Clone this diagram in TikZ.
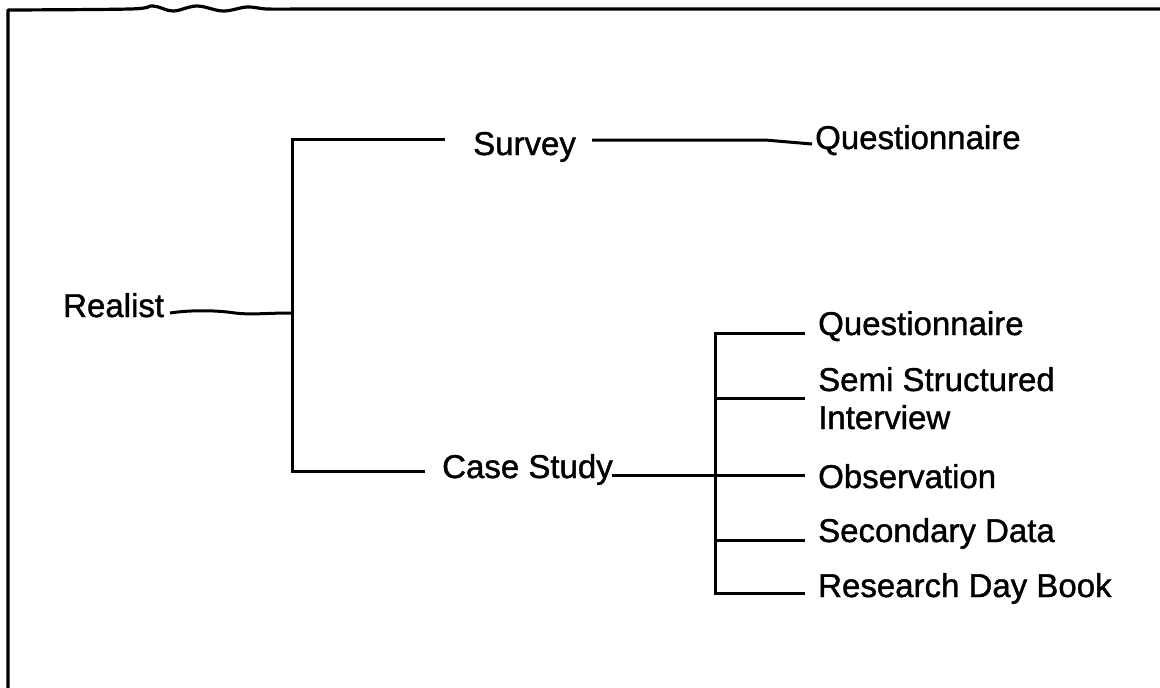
\documentclass[tikz,border=0pt]{standalone}
\usepackage{fontspec}
\setmainfont{Liberation Sans}[FakeBold=1.2]
\begin{document}
\begin{tikzpicture}[x=1pt,y=-1pt,
  lbl/.style={anchor=base west,inner sep=0pt,font=\fontsize{33}{38}\selectfont},
  link/.style={line width=3pt,line cap=butt},
  rim/.style={line width=3.2pt,line join=round}]
\useasboundingbox (0,0) rectangle (1160,688);

% page frame: left edge and a slightly wavy top edge
\draw[rim] (8,688) -- plot[smooth,tension=0.6] coordinates
  {(8,10) (130,9) (153,6) (173,11) (197,6) (223,11) (247,7) (267,9) (300,9)} -- (1160,9);

% labels
\node[lbl] (realist) at (63,317) {Realist};
\node[lbl] (survey) at (473,155) {Survey};
\node[lbl] (q1) at (815,149) {Questionnaire};
\node[lbl] (case) at (442,478) {Case Study};
\node[lbl] (q2) at (818,335) {Questionnaire};
\node[lbl] (semi) at (818,391) {Semi Structured};
\node[lbl] (interview) at (818,429) {Interview};
\node[lbl] (obs) at (818,488) {Observation};
\node[lbl] (sec) at (818,542) {Secondary Data};
\node[lbl] (rdb) at (818,597) {Research Day Book};

% junction points
\coordinate (rl) at (170,313);
\coordinate (hub) at (292,313);
\coordinate (topc) at (292,139);
\coordinate (botc) at (292,471);
\coordinate (sl) at (445,139);
\coordinate (sr) at (592,140);
\coordinate (sq) at (812,144);
\coordinate (cl) at (425,471);
\coordinate (cr) at (612,475);
\coordinate (b1) at (715,333);
\coordinate (b2) at (715,398);
\coordinate (b3) at (715,475);
\coordinate (b4) at (715,540);
\coordinate (b5) at (715,593);
\coordinate (e1) at (805,333);
\coordinate (e2) at (805,398);
\coordinate (e3) at (805,475);
\coordinate (e4) at (805,540);
\coordinate (e5) at (805,593);

% Realist branch
\draw[link] (rl) .. controls (190,310) and (215,310) .. (235,313)
  .. controls (252,315) and (265,313) .. (hub);
\draw[link,line join=miter] (sl) -- (topc) -- (botc) -- (cl);

% Survey branch
\draw[link] (sr) -- (765,140) -- (sq);

% Case Study branch
\draw[link] (cr) -- (b3);
\draw[link,line cap=rect] (b1) -- (b5);
\draw[link] (b1) -- (e1);
\draw[link] (b2) -- (e2);
\draw[link] (b3) -- (e3);
\draw[link] (b4) -- (e4);
\draw[link] (b5) -- (e5);
\end{tikzpicture}
\end{document}
